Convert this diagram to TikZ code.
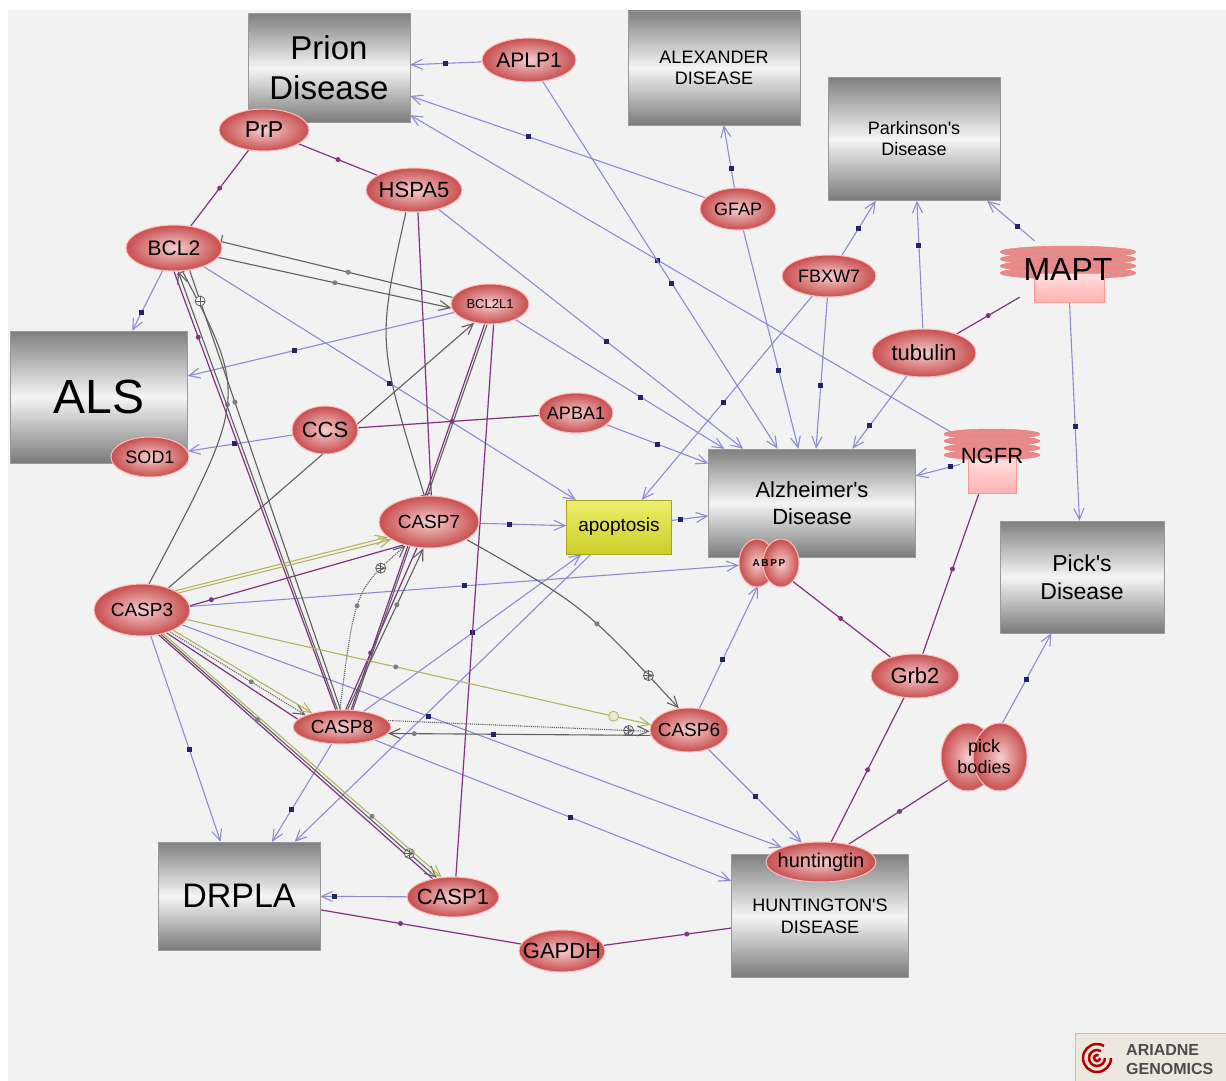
\documentclass[tikz,border=0pt]{standalone}
\usepackage{fontspec}
\setmainfont{Liberation Sans}[Ligatures=TeXOff]
\usetikzlibrary{arrows.meta,shapes.geometric}
\definecolor{bgc}{RGB}{242,242,242}
\definecolor{lav}{RGB}{140,140,208}
\definecolor{sqc}{RGB}{35,35,105}
\definecolor{purp}{RGB}{128,52,128}
\definecolor{gry}{RGB}{95,95,95}
\definecolor{oliv}{RGB}{180,180,95}
\definecolor{pinkin}{RGB}{245,205,205}
\definecolor{pinkout}{RGB}{200,78,78}
\definecolor{bandc}{RGB}{228,140,140}
\definecolor{apoL}{RGB}{238,238,110}
\definecolor{apoD}{RGB}{205,205,40}
\definecolor{logoc}{RGB}{236,232,222}
\newcommand\fsz[2]{\fontsize{#1}{#2}\selectfont}
\pgfdeclarelayer{back}
\pgfdeclarelayer{edges}
\pgfsetlayers{back,edges,main}

\begin{document}
\begin{tikzpicture}[x=1pt, y=-1pt,
  dis/.style={draw=black!40, top color=black!50, bottom color=black!52, middle color=black!4, inner sep=0pt, align=center},
  prot/.style={ellipse, draw=red!25, line width=1pt, inner color=pinkin, outer color=pinkout, inner xsep=-12pt, inner ysep=-4pt},
  lobe/.style={ellipse, draw=red!25, line width=1pt, inner color=pinkin, outer color=pinkout, inner sep=0pt},
  bl/.style={lav, line width=1.1pt, -{Straight Barb[length=11pt, width=10pt]}},
  bd/.style={purp, line width=1.2pt},
  gr/.style={gry, line width=1.1pt},
  gar/.style={gr, -{Straight Barb[length=11pt, width=10pt]}},
  ginh/.style={gr, -{Bar[width=13pt]}},
  ol/.style={oliv, line width=1.1pt, -{Straight Barb[length=11pt, width=10pt]}},
  sq/.style={fill=sqc, inner sep=0pt, minimum size=5pt},
  pd/.style={circle, fill=purp, inner sep=0pt, minimum size=5pt},
  gd/.style={circle, fill=gry!80, inner sep=0pt, minimum size=5pt},
  op/.style={circle, solid, draw=gry, fill=bgc, line width=0.8pt, inner sep=0pt, minimum size=10pt,
    path picture={\draw[gry, line width=0.8pt] (path picture bounding box.north) -- (path picture bounding box.south) (path picture bounding box.west) -- (path picture bounding box.east);}},
  oc/.style={circle, solid, draw=oliv, fill=oliv!30, line width=0.8pt, inner sep=0pt, minimum size=10pt}]

  \begin{pgfonlayer}{back}
    \fill[white] (0,0) rectangle (1226,1081);
    \fill[bgc] (8,10) rectangle (1226,1081);
  \end{pgfonlayer}
  \useasboundingbox (0,0) rectangle (1226,1081);

  \node[dis, minimum width=162pt, minimum height=109pt, font=\fsz{33}{40}] (prion) at (329,68) {Prion\\Disease};
  \node[dis, minimum width=172pt, minimum height=114pt, font=\fsz{18}{21}] (alex) at (714,68) {ALEXANDER\\DISEASE};
  \node[dis, minimum width=172pt, minimum height=123pt, font=\fsz{18}{21}] (park) at (914,139) {Parkinson's\\Disease};
  \node[dis, minimum width=177pt, minimum height=132pt, font=\fsz{48}{50}] (als) at (99,397) {ALS};
  \node[dis, minimum width=207pt, minimum height=108pt, font=\fsz{22}{27}] (alz) at (812,503) {Alzheimer's\\Disease};
  \node[dis, minimum width=164pt, minimum height=112pt, font=\fsz{23}{28}] (pick) at (1082,577) {Pick's\\Disease};
  \node[dis, minimum width=162pt, minimum height=108pt, font=\fsz{34}{40}] (drpla) at (239,896) {DRPLA};
  \node[dis, minimum width=177pt, minimum height=123pt, font=\fsz{18}{22}] (hd) at (820,916) {HUNTINGTON'S\\DISEASE};
  \node[draw=apoD!80!black, top color=apoL, bottom color=apoD, minimum width=105pt, minimum height=54pt, inner sep=0pt, font=\fsz{19}{22}] (apop) at (619,527) {apoptosis};

  \node[prot, minimum width=94pt, minimum height=44pt, font=\fsz{21}{24}] (aplp1) at (529,60) {APLP1};
  \node[prot, minimum width=90pt, minimum height=42pt, font=\fsz{23}{26}] (prp) at (264,130) {PrP};
  \node[prot, minimum width=96pt, minimum height=44pt, font=\fsz{22}{26}] (hspa5) at (414,190) {HSPA5};
  \node[prot, minimum width=76pt, minimum height=42pt, font=\fsz{18}{22}] (gfap) at (738,209) {GFAP};
  \node[prot, minimum width=96pt, minimum height=46pt, font=\fsz{21}{24}] (bcl2) at (174,248) {BCL2};
  \node[prot, minimum width=94pt, minimum height=42pt, font=\fsz{18}{22}] (fbxw7) at (829,276) {FBXW7};
  \node[prot, minimum width=78pt, minimum height=40pt, font=\fsz{13}{16}] (bcl2l1) at (490,304) {BCL2L1};
  \node[prot, minimum width=104pt, minimum height=48pt, font=\fsz{22}{26}] (tubulin) at (924,353) {tubulin};
  \node[prot, minimum width=66pt, minimum height=48pt, font=\fsz{22}{26}] (ccs) at (325,430) {CCS};
  \node[prot, minimum width=78pt, minimum height=40pt, font=\fsz{18}{22}] (sod1) at (150,457) {SOD1};
  \node[prot, minimum width=74pt, minimum height=40pt, font=\fsz{18}{22}] (apba1) at (576,413) {APBA1};
  \node[prot, minimum width=100pt, minimum height=52pt, font=\fsz{19}{22}] (casp7) at (429,522) {CASP7};
  \node[prot, minimum width=96pt, minimum height=52pt, font=\fsz{19}{22}] (casp3) at (142,610) {CASP3};
  \node[prot, minimum width=88pt, minimum height=44pt, font=\fsz{22}{26}] (grb2) at (915,676) {Grb2};
  \node[prot, minimum width=98pt, minimum height=34pt, font=\fsz{19}{22}] (casp8) at (342,727) {CASP8};
  \node[prot, minimum width=78pt, minimum height=44pt, font=\fsz{19}{22}] (casp6) at (689,730) {CASP6};
  \node[prot, minimum width=110pt, minimum height=40pt, font=\fsz{20}{24}] (hunt) at (821,862) {huntingtin};
  \node[prot, minimum width=92pt, minimum height=40pt, font=\fsz{22}{26}] (casp1) at (453,897) {CASP1};
  \node[prot, minimum width=86pt, minimum height=42pt, font=\fsz{22}{26}] (gapdh) at (562,951) {GAPDH};

  \node[lobe, minimum width=36pt, minimum height=48pt] (abppa) at (757,563) {};
  \node[lobe, minimum width=36pt, minimum height=48pt] (abppb) at (781,563) {};
  \node[ellipse, inner sep=0pt, minimum width=60pt, minimum height=48pt, font=\bfseries\fsz{10}{12}] (abpp) at (769,563) {A\,B\,P\,P};
  \node[lobe, minimum width=54pt, minimum height=68pt] (pickba) at (968,757) {};
  \node[lobe, minimum width=54pt, minimum height=68pt] (pickbb) at (1000,757) {};
  \node[ellipse, inner sep=0pt, minimum width=86pt, minimum height=68pt, align=center, font=\fsz{18}{21}] (pickb) at (984,757) {pick\\bodies};

  \draw[draw=red!55, fill=bandc] (1068,252) ellipse [x radius=68, y radius=6];
  \draw[draw=red!55, fill=bandc] (1068,259) ellipse [x radius=68, y radius=6];
  \draw[draw=red!55, fill=bandc] (1068,266) ellipse [x radius=68, y radius=6];
  \draw[draw=red!55, fill=bandc] (1068,273) ellipse [x radius=68, y radius=6];
  \draw[draw=red!40, top color=red!12, bottom color=red!30] (1034,273) rectangle (1104,302);
  \node[font=\fsz{32}{36}, minimum width=136pt, minimum height=56pt, inner sep=0pt] (mapt) at (1068,269) {MAPT};

  \draw[draw=red!55, fill=bandc] (992,434) ellipse [x radius=48, y radius=5];
  \draw[draw=red!55, fill=bandc] (992,441) ellipse [x radius=48, y radius=5];
  \draw[draw=red!55, fill=bandc] (992,448) ellipse [x radius=48, y radius=5];
  \draw[draw=red!55, fill=bandc] (992,455) ellipse [x radius=48, y radius=5];
  \draw[draw=red!40, top color=red!12, bottom color=red!30] (968,458) rectangle (1016,493);
  \node[font=\fsz{22}{26}, minimum width=64pt, minimum height=56pt, inner sep=0pt] (ngfr) at (992,456) {NGFR};

  \node[draw=black!25, fill=logoc, minimum width=152pt, minimum height=48pt, inner sep=0pt] (logo) at (1151,1057) {};
  \draw[red!70!black, line width=2.5pt] (1111,1058) arc[start angle=0, end angle=300, radius=14]
    (1105,1058) arc[start angle=0, end angle=300, radius=8] (1100,1058) arc[start angle=0, end angle=300, radius=3];
  \node[anchor=west, align=left, font=\bfseries\fsz{16}{19}, text=black!70, inner sep=0pt] (ariadne) at (1126,1060) {ARIADNE\\GENOMICS};

  \begin{pgfonlayer}{edges}
    \draw[bl] (aplp1) -- node[sq]{} (prion);
    \draw[bl] (gfap) -- node[sq, pos=0.6]{} (prion);
    \draw[bl] (ngfr) -- node[sq, pos=0.55]{} (prion);
    \draw[bl] (aplp1) -- node[sq, pos=0.55]{} (alz);
    \draw[bl] (hspa5) -- node[sq, pos=0.55]{} (alz);
    \draw[bl] (gfap) -- node[sq, pos=0.64]{} (alz);
    \draw[bl] (gfap) -- node[sq, pos=0.3]{} (alex);
    \draw[bl] (fbxw7) -- node[sq, pos=0.58]{} (alz);
    \draw[bl] (fbxw7) -- node[sq]{} (park);
    \draw[bl] (fbxw7) -- node[sq, pos=0.52]{} (apop);
    \draw[bl] (tubulin) -- node[sq, pos=0.65]{} (park);
    \draw[bl] (tubulin) -- node[sq, pos=0.68]{} (alz);
    \draw[bl] (mapt) -- node[sq, pos=0.35]{} (park);
    \draw[bl] (mapt) -- node[sq, pos=0.58]{} (pick);
    \draw[bl] (ngfr) -- node[sq, pos=0.2]{} (alz);
    \draw[bl] (apba1) -- node[sq]{} (alz);
    \draw[bl] (apop) -- node[sq, pos=0.25]{} (alz);
    \draw[bl] (casp7) -- node[sq, pos=0.35]{} (apop);
    \draw[bl] (bcl2) -- node[sq, pos=0.7]{} (als);
    \draw[bl] (bcl2l1) -- node[sq, pos=0.6]{} (als);
    \draw[bl] (ccs) -- node[sq, pos=0.55]{} (sod1);
    \draw[bl] (bcl2) -- node[sq]{} (apop);
    \draw[bl] (bcl2l1) -- node[sq, pos=0.6]{} (alz);
    \draw[bl] (casp3) -- node[sq]{} (abpp);
    \draw[bl] (casp6) -- node[sq, pos=0.4]{} (abpp);
    \draw[bl] (casp6) -- node[sq]{} (hunt);
    \draw[bl] (casp3) -- node[sq, pos=0.55]{} (drpla);
    \draw[bl] (casp8) -- node[sq, pos=0.67]{} (drpla);
    \draw[bl] (apop) -- (drpla);
    \draw[bl] (casp8) -- node[sq]{} (apop);
    \draw[bl] (casp1) -- node[sq, pos=0.83]{} (drpla);
    \draw[bl] (casp8) -- node[sq, pos=0.55]{} (hd);
    \draw[bl] (casp3) -- node[sq, pos=0.41]{} (hunt);
    \draw[bl] (pickb) -- node[sq]{} (pick);

    \draw[bd] (prp) -- node[pd]{} (hspa5);
    \draw[bd] (prp) -- node[pd]{} (bcl2);
    \draw[bd] (ccs) -- node[pd, pos=0.52]{} (apba1);
    \draw[bd] (mapt) -- node[pd]{} (tubulin);
    \draw[bd] (abpp) -- node[pd]{} (grb2);
    \draw[bd] (grb2) -- node[pd]{} (ngfr);
    \draw[bd] (grb2) -- node[pd]{} (hunt);
    \draw[bd] (pickb) -- node[pd]{} (hunt);
    \draw[bd] (drpla) -- node[pd, pos=0.4]{} (gapdh);
    \draw[bd] (gapdh) -- node[pd, pos=0.65]{} (hd);
    \draw[bd] (hspa5.-80) -- (casp7.85);
    \draw[bd] (bcl2l1.-80) -- (casp1.82);
    \draw[bd] (bcl2l1.-105) -- (casp8.62);
    \draw[bd] (bcl2.-90) -- node[pd, pos=0.15]{} (casp8.110);
    \draw[bd] (casp3.5) -- node[pd, pos=0.1]{} (casp7.222);
    \draw[bd] (casp3.-43) -- (casp8.170);
    \draw[bd] (casp3.-56) -- (casp1.138);
    \draw[bd] (casp8.78) -- node[pd, pos=0.35]{} (casp7.245);

    \draw[ginh] (bcl2l1.170) -- node[gd, pos=0.45]{} (bcl2.8);
    \draw[gar] (bcl2.-12) -- node[gd]{} (bcl2l1.186);
    \draw[ginh] (hspa5.-110) .. controls (377,342) .. (casp7.100);
    \draw[ginh] (casp3.75) .. controls (248,397) .. (bcl2.-70) node[gd, pos=0.5]{};
    \draw[gar] (casp3.40) -- node[gd, pos=0.55]{} (bcl2l1.230);
    \draw[gar] (casp8.105) -- (bcl2.-80);
    \draw[gr] (casp8.95) -- node[gd, pos=0.7]{} node[op, pos=0.93]{} (bcl2.-55);
    \draw[gr] (bcl2l1.-98) -- node[gd]{} (casp8.58);
    \draw[ol] (casp3.25) -- (casp7.205);
    \draw[ol] (casp3.30) -- (casp7.200);
    \draw[gar, densely dotted] (casp3.-38) -- node[gd, pos=0.6]{} (casp8.162);
    \draw[ol] (casp3.-33) -- (casp8.155);
    \draw[gar] (casp3.-52) -- node[gd, pos=0.35]{} node[op, pos=0.9]{} (casp1.130);
    \draw[ol] (casp3.-48) -- node[gd, pos=0.75]{} (casp1.120);
    \draw[ol] (casp3.-12) -- node[gd, pos=0.45]{} node[oc, pos=0.92]{} (casp6.172);
    \draw[gar, densely dotted] (casp8.8) -- node[op, pos=0.92]{} (casp6.182);
    \draw[gar] (casp6.188) -- node[sq, pos=0.6]{} node[gd, pos=0.9]{} (casp8.-8);
    \draw[gar, densely dotted] (casp8.97) .. controls (355,590) .. (casp7.225) node[gd, pos=0.45]{} node[op, pos=0.8]{};
    \draw[gar] (casp8.72) -- node[gd, pos=0.65]{} (casp7.258);
    \draw[gar] (casp7.-25) .. controls (584,606) .. (casp6.115) node[gd, pos=0.6]{} node[op, pos=0.88]{};
  \end{pgfonlayer}
\end{tikzpicture}
\end{document}
